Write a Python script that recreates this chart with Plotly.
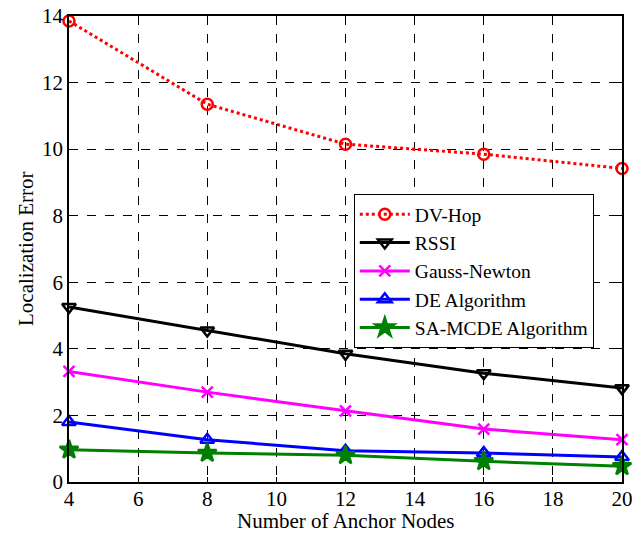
import plotly.graph_objects as go

anchor_nodes = [4, 8, 12, 16, 20]
dv_hop = [13.85, 11.35, 10.15, 9.85, 9.42]
rssi = [5.26, 4.55, 3.85, 3.27, 2.82]
gauss_newton = [3.32, 2.70, 2.14, 1.59, 1.27]
de_alg = [1.80, 1.27, 0.94, 0.87, 0.75]
sa_mcde = [0.97, 0.87, 0.80, 0.62, 0.47]

x_ticks = [4, 6, 8, 10, 12, 14, 16, 18, 20]
y_ticks = [0, 2, 4, 6, 8, 10, 12, 14]

FONT = "Liberation Serif"
PLOT_W = 644 - 69 - 22
PLOT_H = 535 - 16 - 53

series = [
    ("DV-Hop", dv_hop, "red", "circle-open", "dot", 11),
    ("RSSI", rssi, "black", "triangle-down-open", "solid", 12),
    ("Gauss-Newton", gauss_newton, "magenta", "x-thin-open", "solid", 11),
    ("DE Algorithm", de_alg, "blue", "triangle-up-open", "solid", 12),
    ("SA-MCDE Algorithm", sa_mcde, "green", "star", "solid", 14),
]

fig = go.Figure()
for name, ys, color, sym, dash, size in series:
    fig.add_trace(go.Scatter(
        x=anchor_nodes, y=ys, name=name, mode="lines+markers",
        line=dict(color=color, width=3, dash=dash),
        marker=dict(symbol=sym, size=size, color=color,
                    line=dict(color=color, width=2.5)),
        cliponaxis=False,
    ))

axis_common = dict(
    showline=True, linecolor="black", linewidth=1.5, mirror="ticks",
    ticks="inside", ticklen=5, tickcolor="black",
    showgrid=True, gridcolor="black", griddash="dash", gridwidth=1,
    zeroline=False,
    tickfont=dict(family=FONT, size=21, color="black"),
    automargin=False,
)

fig.update_xaxes(range=[4, 20], tickvals=x_ticks, ticklabelstandoff=-3,
                 **axis_common)
fig.update_yaxes(range=[0, 14], tickvals=y_ticks, **axis_common)

fig.add_annotation(
    text="Number of Anchor Nodes", xref="paper", yref="paper",
    x=0.5, y=-53 / PLOT_H, xanchor="center", yanchor="bottom",
    showarrow=False, font=dict(family=FONT, size=21, color="black"),
)
fig.add_annotation(
    text="Localization Error", xref="paper", yref="paper",
    x=-(69 - 26) / PLOT_W, y=0.5, xanchor="center", yanchor="middle",
    textangle=-90, showarrow=False,
    font=dict(family=FONT, size=21, color="black"),
)

fig.update_layout(
    width=644, height=535,
    margin=dict(l=69, r=22, t=16, b=53),
    plot_bgcolor="white", paper_bgcolor="white",
    font=dict(family=FONT, size=20, color="black"),
    legend=dict(
        x=0.515, y=0.618, xanchor="left", yanchor="top",
        bgcolor="white", bordercolor="black", borderwidth=1,
        font=dict(family=FONT, size=19.5, color="black"),
        itemwidth=50, tracegroupgap=0,
    ),
    showlegend=True,
)

fig.write_html("out.html",
               config={"displayModeBar": False},
               post_script="document.body.style.margin='0';document.body.style.overflow='hidden';")
